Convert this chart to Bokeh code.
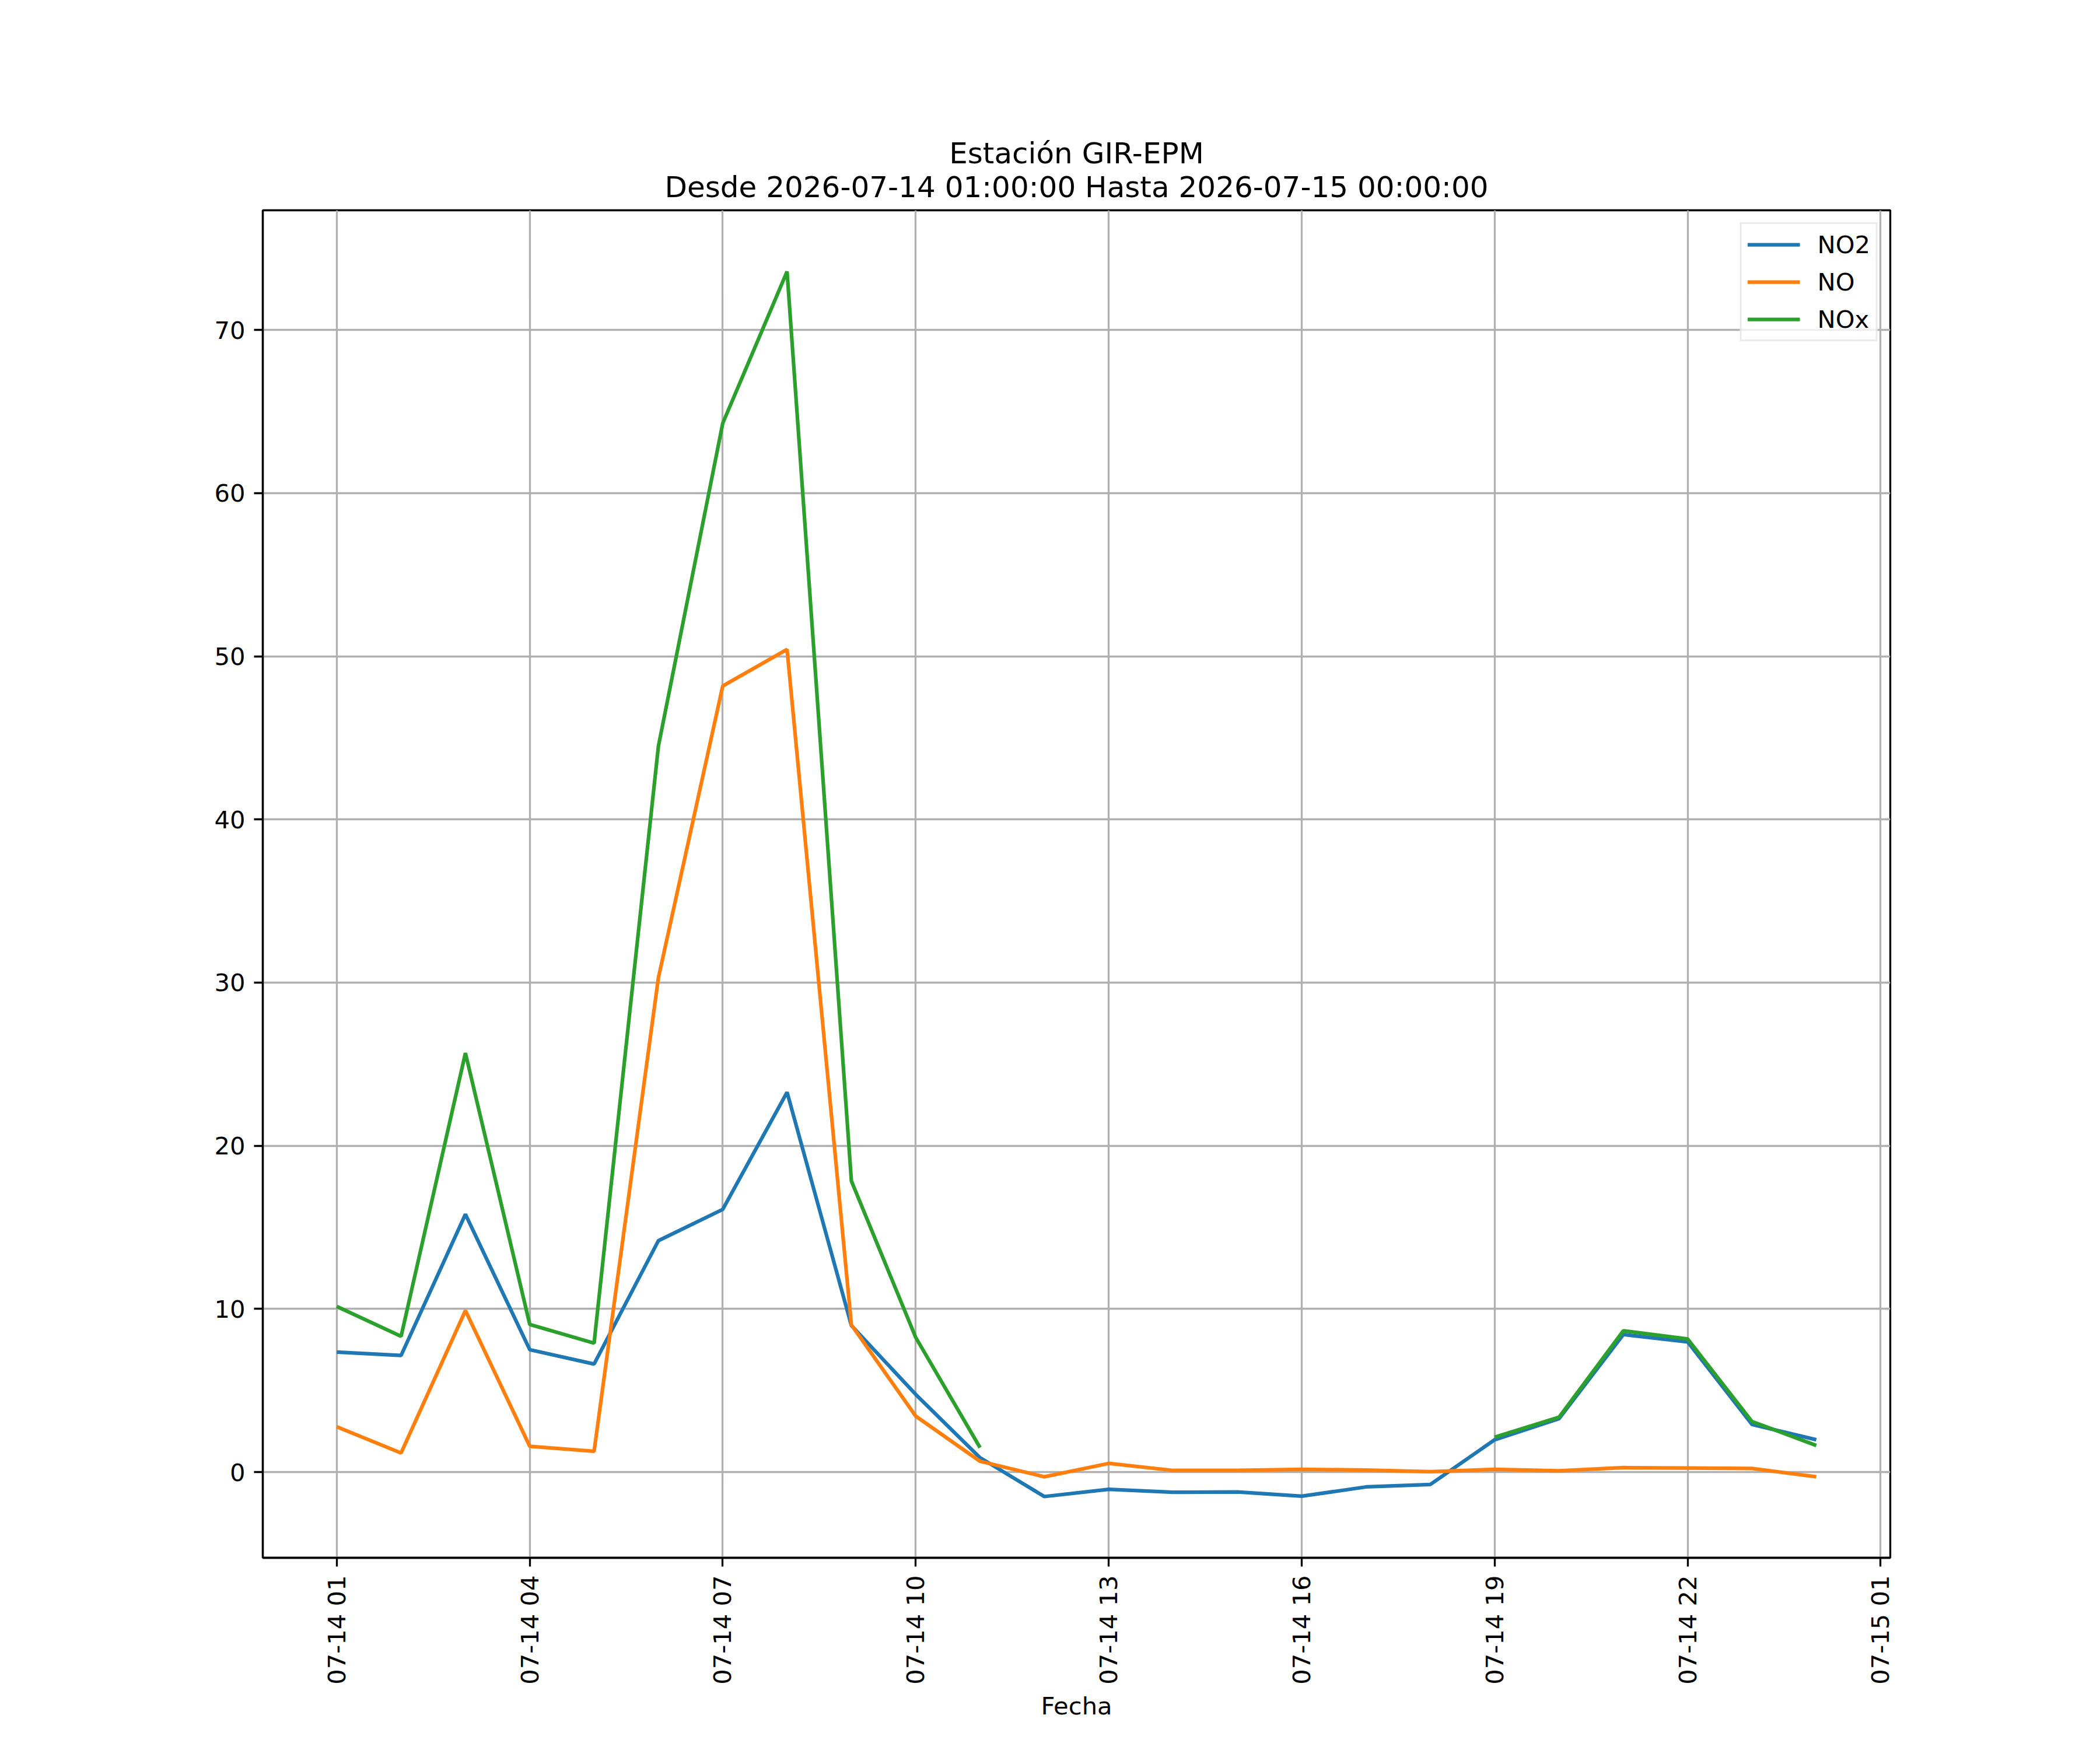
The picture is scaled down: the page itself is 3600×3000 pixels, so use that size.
import math
from datetime import datetime, timedelta
import numpy as np
from bokeh.plotting import figure
from bokeh.models import (Range1d, FixedTicker, DatetimeTickFormatter, Title,
                          Legend, LegendItem, ColumnDataSource)
from bokeh.embed import file_html
from bokeh.resources import INLINE

# ---- data -----------------------------------------------------------------
start = datetime(2026, 7, 14, 1, 0, 0)
hours = [start + timedelta(hours=i) for i in range(24)]

no2 = [7.35, 7.15, 15.8, 7.5, 6.62, 14.18, 16.1, 23.28, 8.98, 4.76, 0.88,
       -1.5, -1.06, -1.24, -1.22, -1.48, -0.91, -0.76, 1.98, 3.27, 8.43,
       7.98, 2.92, 1.98]
no = [2.78, 1.17, 9.9, 1.58, 1.27, 30.3, 48.18, 50.42, 9.02, 3.43, 0.66,
      -0.29, 0.53, 0.1, 0.1, 0.17, 0.12, 0.02, 0.17, 0.08, 0.27, 0.25,
      0.22, -0.29]
nox = [10.15, 8.32, 25.68, 9.05, 7.9, 44.49, 64.28, 73.58, 17.84, 8.25, 1.5,
       np.nan, np.nan, np.nan, np.nan, np.nan, np.nan, np.nan, 2.14, 3.36,
       8.66, 8.16, 3.1, 1.63]

series_names = ["NO2", "NO", "NOx"]
series_colors = ["#1f77b4", "#ff7f0e", "#2ca02c"]

title_line1 = "Estación GIR-EPM"
title_line2 = "Desde 2026-07-14 01:00:00 Hasta 2026-07-15 00:00:00"
x_label = "Fecha"
y_ticks = [0, 10, 20, 30, 40, 50, 60, 70]
x_tick_times = [datetime(2026, 7, 14, 1) + timedelta(hours=3 * i) for i in range(9)]

# ---- ranges (matplotlib-like 5% margins) -----------------------------------
def ms(d):
    return (d - datetime(1970, 1, 1)).total_seconds() * 1000.0

xs_ms = [ms(h) for h in hours]
xspan = xs_ms[-1] - xs_ms[0]
allv = [v for v in no2 + no + nox if not (isinstance(v, float) and math.isnan(v))]
ymin, ymax = min(allv), max(allv)
yspan = ymax - ymin

FONT = "DejaVu Sans"
FS = "41.67px"

p = figure(
    x_axis_type="datetime",
    x_range=Range1d(xs_ms[0] - 0.05 * xspan, xs_ms[-1] + 0.05 * xspan),
    y_range=Range1d(ymin - 0.05 * yspan, ymax + 0.05 * yspan),
    frame_width=2790, frame_height=2310,
    min_border_left=450, min_border_right=344,
    min_border_top=360, min_border_bottom=314,
    output_backend="svg", toolbar_location=None,
    background_fill_color="white", border_fill_color="white",
)
p.title.visible = False
p.title.text = ""

# titles (first added is closest to plot)
t2 = Title(text=title_line2, align="center", text_font=FONT,
           text_font_size="50px", text_font_style="normal",
           text_color="black", standoff=22)
t1 = Title(text=title_line1, align="center", text_font=FONT,
           text_font_size="50px", text_font_style="normal",
           text_color="black", standoff=-26)
p.add_layout(t2, "above")
p.add_layout(t1, "above")

src = ColumnDataSource(dict(x=hours, no2=no2, no=no, nox=nox))
renderers = []
for key, name, col in zip(["no2", "no", "nox"], series_names, series_colors):
    r = p.line("x", key, source=src, line_color=col, line_width=6.25)
    renderers.append((name, r))

legend = Legend(items=[LegendItem(label=n, renderers=[r]) for n, r in renderers],
                location="top_right")
legend.label_text_font = FONT
legend.label_text_font_size = FS
legend.label_text_color = "black"
legend.glyph_width = 90
legend.glyph_height = 50
legend.label_height = 50
legend.spacing = 14
legend.padding = 10
legend.margin = 21
legend.label_standoff = 30
legend.border_line_color = "#d5d5d5"
legend.border_line_width = 3.3
legend.background_fill_alpha = 0.8
p.add_layout(legend)

# axes
p.xaxis.ticker = FixedTicker(ticks=[ms(t) for t in x_tick_times])
fmt = "%m-%d %H"
p.xaxis.formatter = DatetimeTickFormatter(
    microseconds=fmt, milliseconds=fmt, seconds=fmt, minsec=fmt, minutes=fmt,
    hourmin=fmt, hours=fmt, days=fmt, months=fmt, years=fmt)
p.xaxis.major_label_orientation = math.pi / 2
p.yaxis.ticker = FixedTicker(ticks=y_ticks)
p.xaxis.axis_label = x_label

for ax in (p.xaxis, p.yaxis):
    ax.major_label_text_font = FONT
    ax.major_label_text_font_size = FS
    ax.major_label_text_color = "black"
    ax.axis_label_text_font = FONT
    ax.axis_label_text_font_size = FS
    ax.axis_label_text_font_style = "normal"
    ax.axis_label_text_color = "black"
    ax.axis_line_color = "black"
    ax.axis_line_width = 3.3
    ax.major_tick_line_color = "black"
    ax.major_tick_line_width = 3.3
    ax.major_tick_out = 15
    ax.major_tick_in = 0
    ax.minor_tick_out = 0
    ax.minor_tick_in = 0
    ax.major_label_standoff = 15
p.xaxis.axis_label_standoff = 9

p.outline_line_color = "black"
p.outline_line_width = 3.3
p.outline_line_alpha = 1.0

for g in (p.xgrid, p.ygrid):
    g.grid_line_color = "#b0b0b0"
    g.grid_line_width = 3.3
    g.grid_line_alpha = 1.0

open("out.html", "w").write(file_html(p, INLINE))
